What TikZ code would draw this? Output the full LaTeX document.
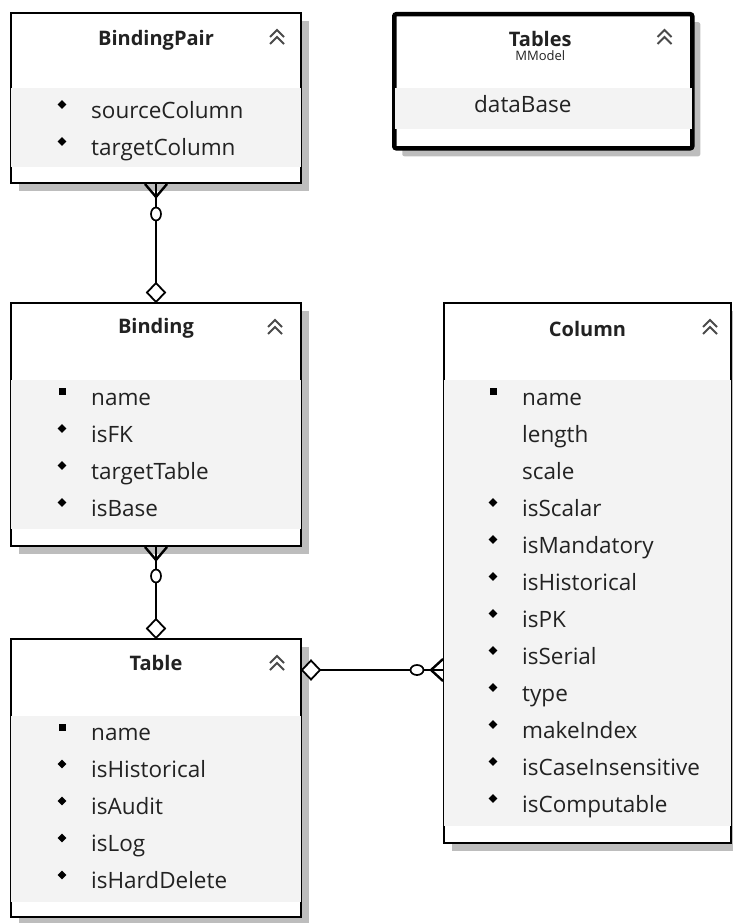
\documentclass[tikz,border=0pt]{standalone}
\usepackage{fontspec}
\setmainfont{Open Sans}
\usetikzlibrary{calc, positioning, shadows}
\definecolor{bandgray}{HTML}{F3F3F3}
\definecolor{shadegray}{HTML}{BDBDBD}
\definecolor{chevgray}{HTML}{4A4A4A}
\definecolor{inkgray}{HTML}{222222}

\begin{document}
\begin{tikzpicture}[x=1pt, y=-1pt,
        classbox/.style={draw, line width=2pt, fill=white, anchor=north west,
            inner sep=0pt, minimum width=290pt,
            drop shadow={shadow xshift=8pt, shadow yshift=-8pt, fill=shadegray, opacity=1}},
        title/.style={inner sep=0pt, text=inkgray, font=\bfseries\fontsize{20}{22}\selectfont},
        attr/.style={anchor=west, inner sep=0pt, text=inkgray, text height=15pt, text depth=3.8pt,
            font=\fontsize{22.5}{25}\selectfont},
        keymark/.style={fill=black, minimum size=7pt, inner sep=0pt},
        fieldmark/.style={fill=black, minimum size=6.3pt, inner sep=0pt, rotate=45},
        rel/.style={line width=2.4pt},
        chev/.pic={\draw[chevgray, line width=1.9pt] (-7,1) -- (0,-6) -- (7,1) (-7,8) -- (0,1) -- (7,8);}]
    \useasboundingbox (0,0) rectangle (732,923);

    % boxes
    \node[classbox, minimum height=170pt] (bpair) at (10,12) {};
    \node[classbox, minimum height=134pt, minimum width=298pt, line width=4.5pt, rounded corners=2pt] (tables) at (392,12) {};
    \node[classbox, minimum height=243pt] (binding) at (10,302) {};
    \node[classbox, minimum height=540pt, minimum width=287pt] (col) at (443,302) {};
    \node[classbox, minimum height=278pt] (table) at (10,638) {};

    % attribute bands
    \fill[bandgray] ($(bpair.north west)+(1,76)$) rectangle ($(bpair.south east)+(-1,-17)$);
    \fill[bandgray] ($(tables.north west)+(2.5,76)$) rectangle ($(tables.south east)+(-2.5,-21)$);
    \fill[bandgray] ($(binding.north west)+(1,78)$) rectangle ($(binding.south east)+(-1,-18)$);
    \fill[bandgray] ($(col.north west)+(1,78)$) rectangle ($(col.south east)+(-1,-18)$);
    \fill[bandgray] ($(table.north west)+(1,78)$) rectangle ($(table.south east)+(-1,-16)$);

    % headers
    \node[title] (bpair-t) at ($(bpair.north)+(0,28)$) {BindingPair};
    \node[title] (tables-t) at ($(tables.north)+(-3,27)$) {Tables};
    \node[inner sep=0pt, text=inkgray, font=\fontsize{13}{14}\selectfont] (tables-s) at ($(tables.north)+(-3,44)$) {MModel};
    \node[title] (binding-t) at ($(binding.north)+(0,26)$) {Binding};
    \node[title] (col-t) at ($(col.north)+(0,27)$) {Column};
    \node[title] (table-t) at ($(table.north)+(0,25)$) {Table};
    \pic at ($(bpair.north east)+(-25,24)$) {chev};
    \pic at ($(tables.north east)+(-30,24)$) {chev};
    \pic at ($(binding.north east)+(-27,24)$) {chev};
    \pic at ($(col.north east)+(-22,24)$) {chev};
    \pic at ($(table.north east)+(-25,24)$) {chev};

    % attributes
    \foreach \m/\t [count=\i] in {f/sourceColumn, f/targetColumn}
        \node[attr] (bpair-\i) at (91,{112.5+37*(\i-1)}) {\t};
    \node[attr] (tables-1) at (474,107) {dataBase};
    \foreach \m/\t [count=\i] in {k/name, f/isFK, f/targetTable, f/isBase}
        \node[attr] (binding-\i) at (91,{399.5+37*(\i-1)}) {\t};
    \foreach \m/\t [count=\i] in {k/name, n/length, n/scale, f/isScalar, f/isMandatory, f/isHistorical,
            f/isPK, f/isSerial, f/type, f/makeIndex, f/isCaseInsensitive, f/isComputable}
        \node[attr] (col-\i) at (522,{399.5+37*(\i-1)}) {\t};
    \foreach \m/\t [count=\i] in {k/name, f/isHistorical, f/isAudit, f/isLog, f/isHardDelete}
        \node[attr] (table-\i) at (91,{735+37*(\i-1)}) {\t};

    % bullets
    \foreach \b/\m in {bpair-1/f, bpair-2/f, binding-1/k, binding-2/f, binding-3/f, binding-4/f,
            col-1/k, col-4/f, col-5/f, col-6/f, col-7/f, col-8/f, col-9/f, col-10/f, col-11/f, col-12/f,
            table-1/k, table-2/f, table-3/f, table-4/f, table-5/f}
        \node[\if k\m keymark\else fieldmark\fi] at ($(\b.west)+(-29,-8)$) {};

    % relationships
    \draw[rel] (bpair.south) -- (binding.north);
    \draw[rel] ($(bpair.south)+(-11,0)$) -- ++(11,13) -- ++(11,-13);
    \draw[rel, line width=1.7pt, fill=white] ($(bpair.south)+(0,30)$) ellipse (5 and 6.5);
    \draw[rel, line width=1.8pt, fill=white] (binding.north) -- ++(-9,-9.5) -- ++(9,-9.5) -- ++(9,9.5) -- cycle;

    \draw[rel] (binding.south) -- (table.north);
    \draw[rel] ($(binding.south)+(-11,0)$) -- ++(11,13) -- ++(11,-13);
    \draw[rel, line width=1.7pt, fill=white] ($(binding.south)+(0,29)$) ellipse (5 and 6.5);
    \draw[rel, line width=1.8pt, fill=white] (table.north) -- ++(-9,-9.5) -- ++(9,-9.5) -- ++(9,9.5) -- cycle;

    \draw[rel] (table.north east) ++(0,32) coordinate (tc) -- (tc -| col.west);
    \draw[rel, line width=1.8pt, fill=white] (tc) -- ++(9,-9.5) -- ++(9,9.5) -- ++(-9,9.5) -- cycle;
    \draw[rel, line width=1.7pt, fill=white] ($(tc -| col.west)+(-26,0)$) ellipse (6.5 and 5);
    \draw[rel] ($(tc -| col.west)+(0,-11)$) -- ++(-12,11) -- ++(12,11);
\end{tikzpicture}
\end{document}
